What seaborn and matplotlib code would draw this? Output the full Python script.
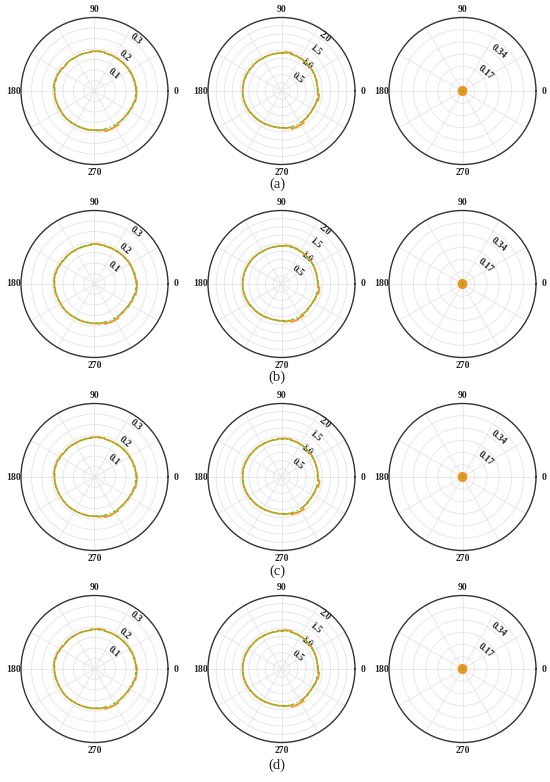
import numpy as np
import matplotlib
matplotlib.use("Agg")
import matplotlib.pyplot as plt
import seaborn as sns

sns.set_style("white")
plt.rcParams["font.family"] = ["Liberation Serif", "DejaVu Serif"]
plt.rcParams["font.weight"] = "bold"

# angles in degrees (every 10 degrees)
angles_deg = list(range(0, 360, 10))

row_labels = ["(a)", "(b)", "(c)", "(d)"]

# ---- column 1 (r max 0.35) ----
c1_orange_a = [0.200, 0.197, 0.195, 0.193, 0.192, 0.190, 0.189, 0.188, 0.191, 0.190, 0.186, 0.186,
               0.185, 0.187, 0.185, 0.190, 0.193, 0.195, 0.191, 0.190, 0.188, 0.187, 0.188, 0.187,
               0.186, 0.186, 0.187, 0.187, 0.190, 0.198, 0.197, 0.190, 0.190, 0.192, 0.195, 0.201]
c1_green_a = [0.198, 0.196, 0.194, 0.193, 0.191, 0.190, 0.189, 0.188, 0.189, 0.188, 0.186, 0.186,
              0.186, 0.187, 0.187, 0.189, 0.191, 0.192, 0.191, 0.190, 0.188, 0.187, 0.187, 0.186,
              0.186, 0.186, 0.187, 0.187, 0.188, 0.189, 0.189, 0.189, 0.190, 0.191, 0.194, 0.197]
c1_orange_b = [0.202, 0.197, 0.195, 0.194, 0.192, 0.190, 0.189, 0.188, 0.190, 0.191, 0.187, 0.186,
               0.186, 0.187, 0.186, 0.189, 0.192, 0.194, 0.192, 0.190, 0.188, 0.187, 0.188, 0.187,
               0.186, 0.187, 0.187, 0.188, 0.190, 0.197, 0.198, 0.191, 0.190, 0.193, 0.196, 0.203]
c1_green_b = [0.199, 0.196, 0.194, 0.193, 0.191, 0.190, 0.189, 0.188, 0.189, 0.189, 0.187, 0.186,
              0.186, 0.187, 0.187, 0.188, 0.191, 0.192, 0.191, 0.190, 0.188, 0.187, 0.187, 0.187,
              0.186, 0.186, 0.187, 0.187, 0.188, 0.189, 0.189, 0.189, 0.190, 0.192, 0.194, 0.198]
c1_orange_c = [0.201, 0.198, 0.195, 0.193, 0.192, 0.190, 0.188, 0.188, 0.191, 0.190, 0.187, 0.186,
               0.185, 0.187, 0.186, 0.190, 0.193, 0.194, 0.191, 0.190, 0.188, 0.187, 0.187, 0.187,
               0.186, 0.186, 0.187, 0.187, 0.191, 0.198, 0.196, 0.190, 0.190, 0.192, 0.195, 0.202]
c1_green_c = [0.198, 0.196, 0.194, 0.193, 0.191, 0.190, 0.188, 0.188, 0.189, 0.188, 0.187, 0.186,
              0.186, 0.187, 0.187, 0.189, 0.191, 0.192, 0.191, 0.190, 0.188, 0.187, 0.187, 0.187,
              0.186, 0.186, 0.187, 0.187, 0.188, 0.189, 0.189, 0.189, 0.190, 0.191, 0.194, 0.197]
c1_orange_d = [0.201, 0.197, 0.196, 0.193, 0.192, 0.190, 0.189, 0.188, 0.192, 0.190, 0.186, 0.186,
               0.186, 0.187, 0.185, 0.189, 0.193, 0.195, 0.192, 0.190, 0.188, 0.187, 0.188, 0.187,
               0.186, 0.186, 0.187, 0.188, 0.190, 0.197, 0.197, 0.190, 0.190, 0.192, 0.196, 0.202]
c1_green_d = [0.198, 0.196, 0.194, 0.193, 0.191, 0.190, 0.189, 0.188, 0.189, 0.188, 0.186, 0.186,
              0.186, 0.187, 0.187, 0.189, 0.191, 0.192, 0.191, 0.190, 0.188, 0.187, 0.187, 0.186,
              0.186, 0.186, 0.187, 0.187, 0.188, 0.189, 0.189, 0.189, 0.190, 0.191, 0.194, 0.197]

# ---- column 2 (r max 2.25) ----
c2_orange_a = [1.11, 1.11, 1.12, 1.13, 1.14, 1.15, 1.16, 1.17, 1.20, 1.17, 1.16, 1.16,
               1.16, 1.17, 1.17, 1.18, 1.19, 1.19, 1.19, 1.19, 1.18, 1.17, 1.15, 1.14,
               1.13, 1.12, 1.12, 1.13, 1.15, 1.20, 1.19, 1.13, 1.11, 1.11, 1.12, 1.16]
c2_green_a = [1.11, 1.11, 1.12, 1.13, 1.14, 1.15, 1.16, 1.16, 1.17, 1.16, 1.16, 1.16,
              1.16, 1.17, 1.17, 1.18, 1.18, 1.19, 1.19, 1.18, 1.18, 1.17, 1.15, 1.14,
              1.13, 1.12, 1.12, 1.13, 1.13, 1.14, 1.13, 1.12, 1.11, 1.11, 1.11, 1.12]
c2_orange_b = [1.12, 1.11, 1.12, 1.13, 1.14, 1.15, 1.16, 1.18, 1.19, 1.17, 1.16, 1.16,
               1.16, 1.17, 1.18, 1.18, 1.19, 1.19, 1.19, 1.19, 1.18, 1.17, 1.15, 1.14,
               1.13, 1.12, 1.12, 1.13, 1.16, 1.20, 1.18, 1.13, 1.11, 1.11, 1.13, 1.17]
c2_green_b = [1.11, 1.11, 1.12, 1.13, 1.14, 1.15, 1.16, 1.16, 1.17, 1.16, 1.16, 1.16,
              1.16, 1.17, 1.17, 1.18, 1.18, 1.19, 1.19, 1.18, 1.18, 1.17, 1.15, 1.14,
              1.13, 1.12, 1.12, 1.13, 1.13, 1.14, 1.13, 1.12, 1.11, 1.11, 1.11, 1.12]
c2_orange_c = [1.11, 1.12, 1.12, 1.13, 1.14, 1.15, 1.16, 1.17, 1.19, 1.18, 1.16, 1.16,
               1.16, 1.17, 1.17, 1.18, 1.19, 1.20, 1.19, 1.19, 1.18, 1.17, 1.15, 1.14,
               1.13, 1.12, 1.12, 1.13, 1.15, 1.19, 1.20, 1.13, 1.11, 1.11, 1.12, 1.17]
c2_green_c = [1.11, 1.11, 1.12, 1.13, 1.14, 1.15, 1.16, 1.16, 1.17, 1.16, 1.16, 1.16,
              1.16, 1.17, 1.17, 1.18, 1.18, 1.19, 1.19, 1.18, 1.18, 1.17, 1.15, 1.14,
              1.13, 1.12, 1.12, 1.13, 1.13, 1.14, 1.13, 1.12, 1.11, 1.11, 1.11, 1.12]
c2_orange_d = [1.12, 1.11, 1.12, 1.13, 1.14, 1.15, 1.16, 1.17, 1.20, 1.18, 1.16, 1.16,
               1.16, 1.17, 1.17, 1.18, 1.19, 1.19, 1.19, 1.19, 1.18, 1.17, 1.15, 1.14,
               1.13, 1.12, 1.12, 1.13, 1.15, 1.20, 1.19, 1.13, 1.11, 1.11, 1.13, 1.16]
c2_green_d = [1.11, 1.11, 1.12, 1.13, 1.14, 1.15, 1.16, 1.16, 1.17, 1.16, 1.16, 1.16,
              1.16, 1.17, 1.17, 1.18, 1.18, 1.19, 1.19, 1.18, 1.18, 1.17, 1.15, 1.14,
              1.13, 1.12, 1.12, 1.13, 1.13, 1.14, 1.13, 1.12, 1.11, 1.11, 1.11, 1.12]

# ---- column 3 (r max 0.51) ----
c3_orange = [0.020, 0.014, 0.022, 0.013, 0.021, 0.015, 0.022, 0.014, 0.020, 0.013, 0.021, 0.015,
             0.022, 0.014, 0.020, 0.013, 0.021, 0.015, 0.022, 0.014, 0.020, 0.013, 0.021, 0.015,
             0.022, 0.014, 0.020, 0.013, 0.021, 0.015, 0.022, 0.014, 0.020, 0.013, 0.021, 0.015]
c3_green = [0.006, 0.005, 0.006, 0.005, 0.006, 0.005, 0.006, 0.005, 0.006, 0.005, 0.006, 0.005,
            0.006, 0.005, 0.006, 0.005, 0.006, 0.005, 0.006, 0.005, 0.006, 0.005, 0.006, 0.005,
            0.006, 0.005, 0.006, 0.005, 0.006, 0.005, 0.006, 0.005, 0.006, 0.005, 0.006, 0.005]

col1_rmax, col1_grid, col1_labels = 0.35, [0.05, 0.10, 0.15, 0.20, 0.25, 0.30], ["", "0.1", "", "0.2", "", "0.3"]
col2_rmax, col2_grid, col2_labels = 2.25, [0.25, 0.5, 0.75, 1.0, 1.25, 1.5, 1.75, 2.0], ["", "0.5", "", "1.0", "", "1.5", "", "2.0"]
col3_rmax, col3_grid, col3_labels = 0.51, [0.085, 0.17, 0.255, 0.34, 0.425], ["", "0.17", "", "0.34", ""]

theta_ticks = list(range(0, 360, 30))
theta_labels = ["0", "", "", "90", "", "", "180", "", "", "270", "", ""]

ORANGE = "#F7901E"
GREEN = "#2EDB2E"

rows = [
    (c1_orange_a, c1_green_a, c2_orange_a, c2_green_a),
    (c1_orange_b, c1_green_b, c2_orange_b, c2_green_b),
    (c1_orange_c, c1_green_c, c2_orange_c, c2_green_c),
    (c1_orange_d, c1_green_d, c2_orange_d, c2_green_d),
]

W, H = 550, 782
fig = plt.figure(figsize=(W / 100, H / 100), dpi=100)

R = 73.5
col_cx = [94.5, 281.5, 462.5]
row_cy = [91, 284, 477, 669]
label_y = [184, 377, 571, 765]


def closed(vals):
    th = np.deg2rad(angles_deg + [360])
    r = list(vals) + [vals[0]]
    return th, r


def draw(ax, orange, green, rmax, grid, glabels, orange_lw=1.0):
    th, ro = closed(orange)
    _, rg = closed(green)
    sns.lineplot(x=th, y=ro, ax=ax, sort=False, color=ORANGE, lw=orange_lw,
                 drawstyle="steps-mid", estimator=None)
    sns.lineplot(x=th, y=rg, ax=ax, sort=False, color=GREEN, lw=0.9,
                 linestyle=(0, (2.5, 2, 1, 2)), estimator=None)
    ax.set_ylim(0, rmax)
    ax.set_yticks(grid)
    ax.set_yticklabels(glabels)
    ax.set_thetagrids(theta_ticks, theta_labels)
    ax.set_rlabel_position(57)
    ax.grid(True, color="#e4e4e4", lw=0.6)
    ax.spines["polar"].set_color("#333333")
    ax.spines["polar"].set_linewidth(1.0)
    ax.tick_params(axis="x", pad=-1.5, labelsize=7, size=0)
    ax.tick_params(axis="y", labelsize=7, labelrotation=-40)
    ax.set_xlabel("")
    ax.set_ylabel("")


for i, (o1, g1, o2, g2) in enumerate(rows):
    cy = row_cy[i]
    specs = [
        (o1, g1, col1_rmax, col1_grid, col1_labels, 1.3),
        (o2, g2, col2_rmax, col2_grid, col2_labels, 1.3),
        (c3_orange, c3_green, col3_rmax, col3_grid, col3_labels, 2.5),
    ]
    for j, (o, g, rmax, grid, gl, lw) in enumerate(specs):
        cx = col_cx[j]
        rect = [(cx - R) / W, 1 - (cy + R) / H, 2 * R / W, 2 * R / H]
        ax = fig.add_axes(rect, projection="polar")
        draw(ax, o, g, rmax, grid, gl, lw)
    fig.text(277 / W, 1 - label_y[i] / H, row_labels[i], ha="center", va="center",
             fontsize=10.5, fontweight="normal", family=["Liberation Serif", "DejaVu Serif"])

fig.savefig("out.png", dpi=100)
